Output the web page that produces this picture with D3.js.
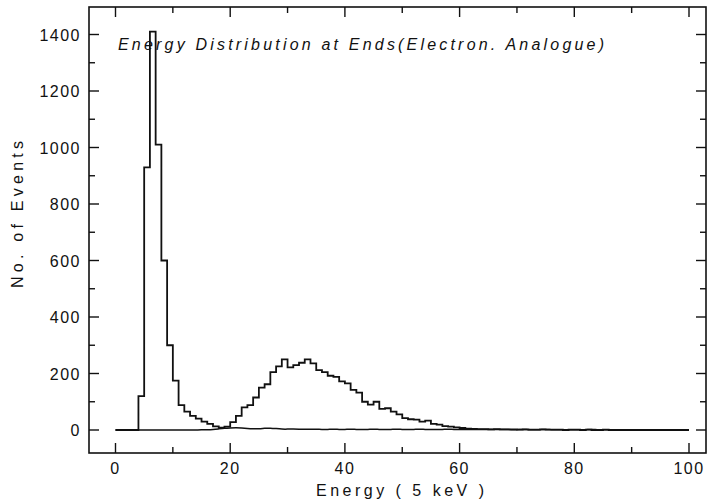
<!DOCTYPE html>
<html>
<head>
<meta charset="utf-8">
<script src="https://cdn.jsdelivr.net/npm/d3@7"></script>
<style>
  body { margin: 0; background: #fff; }
  text { font-family: "Liberation Sans", "DejaVu Sans", sans-serif; fill: #111; }
</style>
</head>
<body>
<script>
// histogram counts, one bin per energy unit (bin k covers k..k+1)
var counts = [
  0, 0, 0, 0, 120, 930, 1410, 1010, 600, 300,
  175, 88, 65, 50, 40, 30, 22, 13, 8, 12,
  28, 50, 80, 88, 115, 150, 162, 205, 225, 250,
  222, 230, 238, 250, 236, 212, 205, 192, 188, 172,
  165, 142, 132, 100, 90, 100, 75, 77, 65, 55,
  42, 38, 37, 30, 33, 22, 19, 14, 12, 9,
  7, 5, 4, 3, 3, 2, 3, 2, 2, 2,
  1, 2, 1, 1, 2, 1, 1, 1, 0, 1,
  1, 0, 1, 0, 0, 1, 0, 0, 0, 0,
  0, 0, 0, 0, 0, 0, 0, 0, 0, 0
];

// second (smooth, low) curve, value at each energy 0..100
var lowCurve = [
  0, 0, 0, 0, 0, 0, 0, 0, 0, 0,
  0, 0, 0, 0, 0, 0.5, 1, 2, 4, 6,
  7, 8, 7, 5, 4, 4, 6, 7, 5, 3,
  3, 4, 3, 2, 3, 3, 2, 2, 3, 2,
  2, 3, 2, 2, 2, 3, 2, 2, 2, 3,
  2, 2, 2, 3, 2, 2, 2, 2, 3, 2,
  2, 2, 2, 2, 2, 1, 2, 2, 2, 1,
  1, 2, 1, 1, 1, 2, 1, 1, 1, 1,
  1, 1, 1, 2, 1, 1, 1, 1, 1, 1,
  1, 1, 1, 1, 1, 1, 1, 1, 1, 1, 1
];

var xMajor = [0, 20, 40, 60, 80, 100];
var xMinor = [10, 30, 50, 70, 90];
var yMajor = [0, 200, 400, 600, 800, 1000, 1200, 1400];
var yMinor = [100, 300, 500, 700, 900, 1100, 1300];

var title = 'Energy Distribution at Ends(Electron. Analogue)';
var xTitle = 'Energy ( 5 keV )';
var yTitle = 'No. of Events';

var w = 713, h = 502;
var frame = { left: 89, right: 706, top: 7, bottom: 453 };

var x = d3.scaleLinear().domain([0, 100]).range([115.5, 689]);
var y = d3.scaleLinear().domain([0, 1400]).range([430, 34.5]);

var svg = d3.select('body').append('svg')
  .attr('width', w)
  .attr('height', h);

svg.append('rect')
  .attr('x', frame.left)
  .attr('y', frame.top)
  .attr('width', frame.right - frame.left)
  .attr('height', frame.bottom - frame.top)
  .attr('fill', 'none')
  .attr('stroke', '#111')
  .attr('stroke-width', 1.6);

var ticks = svg.append('g').attr('stroke', '#111').attr('stroke-width', 1.4);

function xTicks(vals, len) {
  vals.forEach(function (v) {
    ticks.append('line')
      .attr('x1', x(v)).attr('x2', x(v))
      .attr('y1', frame.bottom).attr('y2', frame.bottom - len);
    ticks.append('line')
      .attr('x1', x(v)).attr('x2', x(v))
      .attr('y1', frame.top).attr('y2', frame.top + len);
  });
}
function yTicks(vals, len) {
  vals.forEach(function (v) {
    ticks.append('line')
      .attr('x1', frame.left).attr('x2', frame.left + len)
      .attr('y1', y(v)).attr('y2', y(v));
    ticks.append('line')
      .attr('x1', frame.right).attr('x2', frame.right - len)
      .attr('y1', y(v)).attr('y2', y(v));
  });
}
xTicks(xMajor, 10);
xTicks(xMinor, 6);
yTicks(yMajor, 10);
yTicks(yMinor, 6);

// tick labels
svg.append('g').selectAll('text')
  .data(xMajor)
  .enter().append('text')
  .attr('x', function (d) { return x(d); })
  .attr('y', 474)
  .attr('text-anchor', 'middle')
  .attr('font-size', 16)
  .attr('letter-spacing', 1.5)
  .text(function (d) { return d; });

svg.append('g').selectAll('text')
  .data(yMajor)
  .enter().append('text')
  .attr('x', 81)
  .attr('y', function (d) { return y(d) + 6; })
  .attr('text-anchor', 'end')
  .attr('font-size', 16)
  .attr('letter-spacing', 1.5)
  .text(function (d) { return d; });

svg.append('text')
  .attr('x', 316)
  .attr('y', 496)
  .attr('font-size', 16)
  .attr('textLength', 168)
  .attr('lengthAdjust', 'spacing')
  .text(xTitle);

svg.append('text')
  .attr('transform', 'translate(23,288) rotate(-90)')
  .attr('font-size', 16)
  .attr('textLength', 147)
  .attr('lengthAdjust', 'spacing')
  .text(yTitle);

svg.append('text')
  .attr('x', 118)
  .attr('y', 50)
  .attr('font-size', 16)
  .attr('font-style', 'italic')
  .attr('textLength', 486)
  .attr('lengthAdjust', 'spacing')
  .text(title);

// histogram as steps
var steps = counts.map(function (v, i) { return [i, v]; });
steps.push([100, counts[counts.length - 1]]);

var stepLine = d3.line()
  .x(function (d) { return x(d[0]); })
  .y(function (d) { return y(d[1]); })
  .curve(d3.curveStepAfter);

svg.append('path')
  .datum(steps)
  .attr('d', stepLine)
  .attr('fill', 'none')
  .attr('stroke', '#111')
  .attr('stroke-width', 1.8);

var smoothLine = d3.line()
  .x(function (d, i) { return x(i); })
  .y(function (d) { return y(d); })
  .curve(d3.curveBasis);

svg.append('path')
  .datum(lowCurve)
  .attr('d', smoothLine)
  .attr('fill', 'none')
  .attr('stroke', '#111')
  .attr('stroke-width', 1.5);
</script>
</body>
</html>
